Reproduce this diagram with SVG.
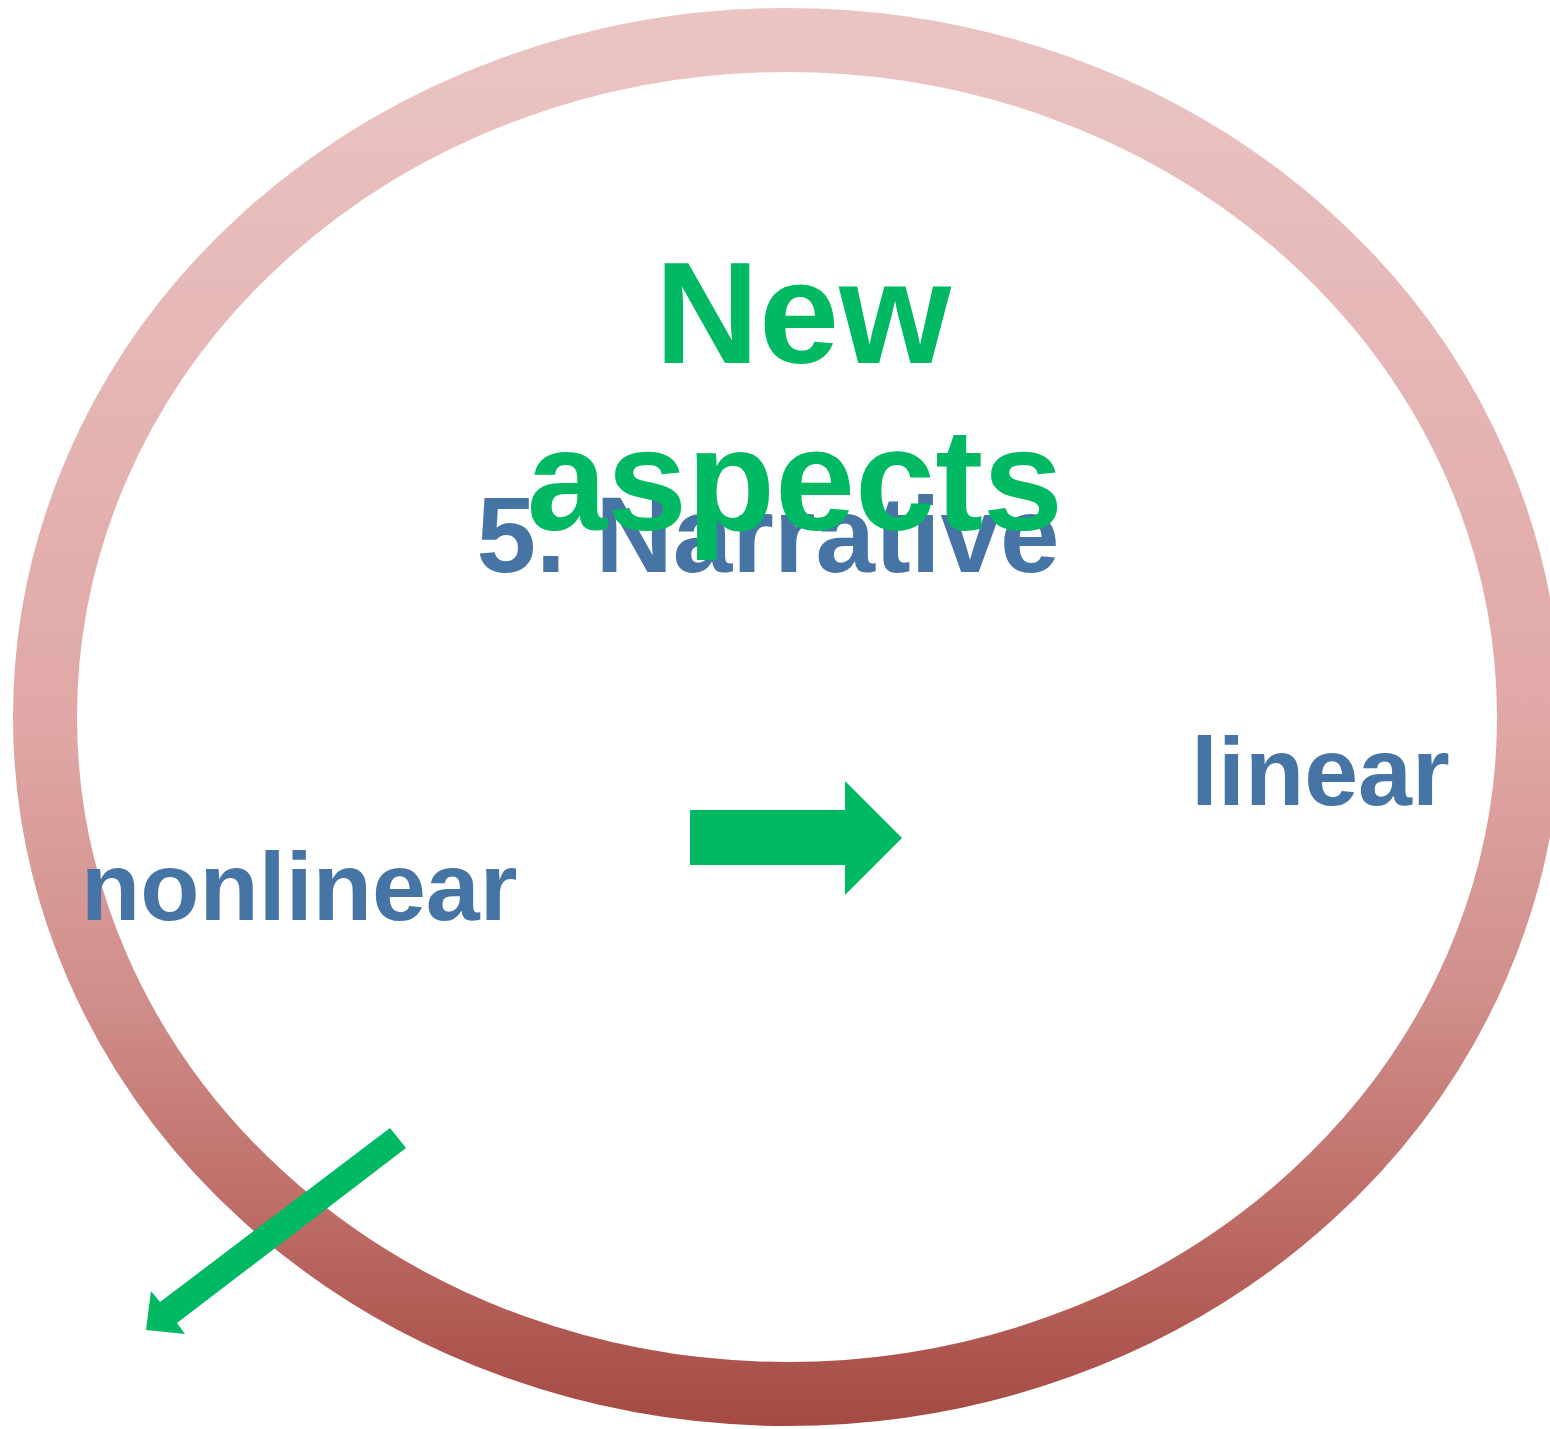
<svg xmlns="http://www.w3.org/2000/svg" width="1550" height="1429" viewBox="0 0 1550 1429">
<style>
.t{font-family:"Liberation Sans",Arial,sans-serif;font-weight:bold}
.blue{fill:#4674A4}
.green{fill:#00B962}
</style>
<defs>
<linearGradient id="ringGrad" gradientUnits="userSpaceOnUse" x1="0" y1="8" x2="0" y2="1426">
<stop offset="0" stop-color="#EAC5C4"/>
<stop offset="0.5" stop-color="#E0A8A6"/>
<stop offset="0.7" stop-color="#D08E8A"/>
<stop offset="0.85" stop-color="#BE6C66"/>
<stop offset="1" stop-color="#A44A43"/>
</linearGradient>
</defs>
<rect width="1550" height="1429" fill="#FFFFFF"/>
<g id="ring">
<ellipse cx="787" cy="717" rx="742" ry="677" fill="none" stroke="url(#ringGrad)" stroke-width="64"/>
</g>
<g id="title-narrative">
<text class="t blue" x="768" y="572" font-size="107" text-anchor="middle">5. Narrative</text>
</g>
<g id="title-new-aspects">
<text class="t green" x="803" y="363" font-size="144" text-anchor="middle">New</text>
<text class="t green" x="795" y="530" font-size="144" text-anchor="middle">aspects</text>
</g>
<g id="node-linear">
<text class="t blue" x="1191" y="805" font-size="97">linear</text>
</g>
<g id="node-nonlinear">
<text class="t blue" x="81" y="920" font-size="97">nonlinear</text>
</g>
<g id="connectors">
<polygon class="green" points="690,810 845,810 845,781 902,838 845,895 845,865 690,865"/>
<polygon class="green" points="390,1128 406,1148 177,1323 185,1334 146,1330 151,1291 160,1302"/>
</g>
</svg>
